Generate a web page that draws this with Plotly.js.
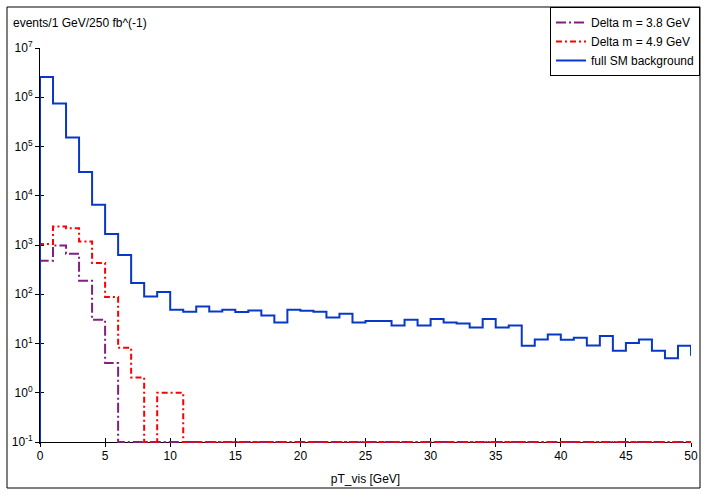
<!DOCTYPE html>
<html>
<head>
<meta charset="utf-8">
<script src="https://cdn.plot.ly/plotly-3.0.1.min.js"></script>
<style>html,body{margin:0;padding:0;background:#fff;}#chart{width:709px;height:498px;}</style>
</head>
<body>
<div id="chart"></div>
<script>
// ---- data (bin contents per 1 GeV bin, bin i spans [i, i+1]) ----
var binEdgesStart = 0;
var bkgName = "full SM background";
var sig38Name = "Delta m = 3.8 GeV";
var sig49Name = "Delta m = 4.9 GeV";

var bkgValues = [2.58e6, 7.5e5, 1.53e5, 3.03e4, 6.6e3, 1.67e3, 627, 169, 90, 111,
                 48.6, 44.3, 56.6, 44.9, 48.6, 43.8, 46.6, 37.2, 26.8, 48.6,
                 46.3, 44.3, 33.9, 40.3, 26.8, 28.6, 28.6, 23.3, 30.4, 23.3,
                 31.4, 26.8, 25.6, 21.2, 31.4, 21.2, 23.3, 9.0, 12.1, 15.3,
                 11.9, 13.1, 9.1, 14.2, 7.1, 10.2, 12.1, 7.1, 5.0, 9.0,
                 5.9];
var sig38Values = [480, 982, 665, 188, 30.4, 4.0, 0, 0, 0, 0,
                   0, 0, 0, 0, 0, 0, 0, 0, 0, 0,
                   0, 0, 0, 0, 0, 0, 0, 0, 0, 0,
                   0, 0, 0, 0, 0, 0, 0, 0, 0, 0,
                   0, 0, 0, 0, 0, 0, 0, 0, 0, 0];
var sig49Values = [1050, 2380, 2200, 1180, 431, 88, 8.2, 2.05, 0, 1.0,
                   1.0, 0, 0, 0, 0, 0, 0, 0, 0, 0,
                   0, 0, 0, 0, 0, 0, 0, 0, 0, 0,
                   0, 0, 0, 0, 0, 0, 0, 0, 0, 0,
                   0, 0, 0, 0, 0, 0, 0, 0, 0, 0];

var yTickVals = [0.1, 1, 10, 100, 1e3, 1e4, 1e5, 1e6, 1e7];
var yTickText = ["10<sup>-1</sup>", "10<sup>0</sup>", "10<sup>1</sup>", "10<sup>2</sup>",
                 "10<sup>3</sup>", "10<sup>4</sup>", "10<sup>5</sup>", "10<sup>6</sup>", "10<sup>7</sup>"];
var xTickVals = [0, 5, 10, 15, 20, 25, 30, 35, 40, 45, 50];
var xTitle = "pT_vis [GeV]";
var yTitle = "events/1 GeV/250 fb^(-1)";

// ---- helpers: histogram outline as a step line (empty bins drawn on the axis floor) ----
var yFloor = 0.1;
function stepLine(values) {
  var xs = [binEdgesStart], ys = [yFloor];
  for (var i = 0; i < values.length; i++) {
    xs.push(binEdgesStart + i);
    ys.push(values[i] > 0 ? values[i] : yFloor);
  }
  xs.push(binEdgesStart + values.length);
  ys.push(values[values.length - 1] > 0 ? values[values.length - 1] : yFloor);
  return {x: xs, y: ys};
}

var FONT = "Liberation Sans, Arial, Helvetica, sans-serif";
var s38 = stepLine(sig38Values), s49 = stepLine(sig49Values), bk = stepLine(bkgValues);

var traces = [
  {x: s38.x, y: s38.y, type: "scatter", mode: "lines", name: sig38Name,
   line: {shape: "hv", color: "#80207f", width: 2, dash: "10px,3px,2px,3px"}, hoverinfo: "skip"},
  {x: s49.x, y: s49.y, type: "scatter", mode: "lines", name: sig49Name,
   line: {shape: "hv", color: "#ff0000", width: 2, dash: "6px,3px,2px,3px"}, hoverinfo: "skip"},
  {x: bk.x, y: bk.y, type: "scatter", mode: "lines", name: bkgName,
   line: {shape: "hv", color: "#0838c8", width: 2}, hoverinfo: "skip"},
  {x: [], y: [], xaxis: "x2", yaxis: "y2", type: "scatter", mode: "lines", showlegend: false, hoverinfo: "skip"}
];

// plot area extends 2px below the x axis so that lines lying on the axis are not clipped
var W = 709, H = 498, L = 40, R = 18, T = 48, B = 54;
var pw = W - L - R, ph = H - T - B;
var axisPx = 442;                          // pixel row of the x axis (10^-1 level)
var pxPerDecade = (axisPx - T) / 8;        // 10^-1 .. 10^7
var yLow = -1 - (H - B - axisPx) / pxPerDecade;
var xAxisPos = (H - B - axisPx) / ph;
function px2paperX(p) { return (p - L) / pw; }
function px2paperY(p) { return (H - B - p) / ph; }

var layout = {
  width: W, height: H,
  margin: {l: L, r: R, t: T, b: B, autoexpand: false},
  paper_bgcolor: "#ffffff", plot_bgcolor: "#ffffff",
  font: {family: FONT, size: 12, color: "#000000"},
  title: {text: yTitle, x: 13 / W, xanchor: "left", xref: "container",
          y: 1 - 23 / H, yanchor: "middle", yref: "container",
          font: {family: FONT, size: 12, color: "#000000"}},
  xaxis: {range: [0, 50], tickvals: xTickVals, ticks: "inside", ticklen: 4, tickcolor: "#000",
          anchor: "free", position: xAxisPos,
          ticklabelstandoff: 3,
          showline: true, linecolor: "#000", linewidth: 1, showgrid: false, zeroline: false,
          layer: "below traces",
          tickfont: {family: FONT, size: 12, color: "#000"},
          title: {text: xTitle, standoff: 12, font: {family: FONT, size: 12, color: "#000"}}},
  yaxis: {type: "log", range: [yLow, 7], tickvals: yTickVals, ticktext: yTickText,
          ticks: "outside", ticklen: 4, tickcolor: "#000",
          showline: true, linecolor: "#000", linewidth: 1, showgrid: false, zeroline: false,
          layer: "below traces",
          tickfont: {family: FONT, size: 12, color: "#000"}},
  xaxis2: {overlaying: "x", anchor: "free", position: xAxisPos, range: [0, 50], tickvals: xTickVals, ticks: "outside",
           ticklen: 4, tickcolor: "#000", showticklabels: false, showline: false, showgrid: false, zeroline: false,
           layer: "below traces"},
  yaxis2: {overlaying: "y", anchor: "x2", type: "log", range: [yLow, 7], tickvals: yTickVals, ticks: "inside",
           ticklen: 4, tickcolor: "#000", showticklabels: false, showline: false, showgrid: false, zeroline: false,
           layer: "below traces"},
  legend: {x: px2paperX(700), xanchor: "right", y: px2paperY(7), yanchor: "top",
           bgcolor: "#ffffff", bordercolor: "#000000", borderwidth: 1,
           font: {family: FONT, size: 12, color: "#000"}, tracegroupgap: 0},
  shapes: [
    {type: "rect", xref: "paper", yref: "paper",
     x0: px2paperX(7), x1: px2paperX(700), y0: px2paperY(488), y1: px2paperY(7),
     line: {color: "#000000", width: 1}, fillcolor: "rgba(0,0,0,0)", layer: "below"}
  ],
  showlegend: true
};

Plotly.newPlot("chart", traces, layout, {displayModeBar: false, staticPlot: true});
</script>
</body>
</html>
